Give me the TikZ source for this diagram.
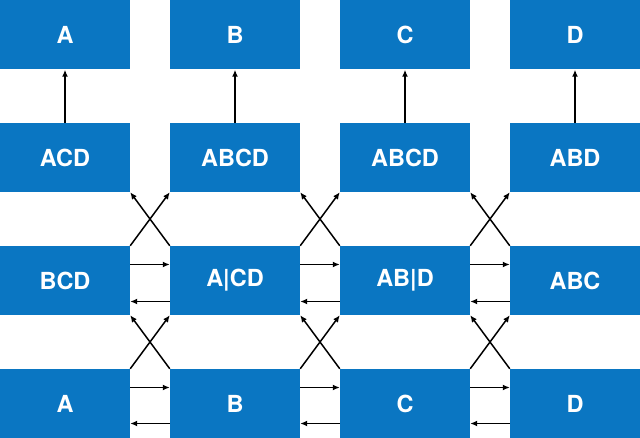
\documentclass[tikz,border=0pt]{standalone}
\usepackage{fontspec}
\setmainfont{TeX Gyre Heros}
\usepackage{tikz}
\usetikzlibrary{shapes,arrows.meta,positioning}

\definecolor{boxblue}{RGB}{10,118,194}

\begin{document}
\begin{tikzpicture}[x=1pt,y=-1pt]
			\tikzstyle{Box}	= [rectangle, fill=boxblue, text=white, minimum width=130pt, minimum height=69pt, inner sep=0pt, font=\fontsize{23.5}{27}\selectfont\bfseries]
			\tikzstyle{Arr}	= [line width=1.5pt, -{Latex[length=7pt,width=6pt]}]

			\useasboundingbox (0,0) rectangle (640,438);

			\node (t1) at (65, 35) [Box] {A};
			\node (t2) at (235, 35) [Box] {B};
			\node (t3) at (405, 35) [Box] {C};
			\node (t4) at (575, 35) [Box] {D};
			\node (s1) at (65, 157.5) [Box] {ACD};
			\node (s2) at (235, 157.5) [Box] {ABCD};
			\node (s3) at (405, 157.5) [Box] {ABCD};
			\node (s4) at (575, 157.5) [Box] {ABD};
			\node (m1) at (65, 280.5) [Box] {BCD};
			\node (m2) at (235, 280.5) [Box] {A|CD};
			\node (m3) at (405, 280.5) [Box] {AB|D};
			\node (m4) at (575, 280.5) [Box] {ABC};
			\node (b1) at (65, 403.5) [Box] {A};
			\node (b2) at (235, 403.5) [Box] {B};
			\node (b3) at (405, 403.5) [Box] {C};
			\node (b4) at (575, 403.5) [Box] {D};

			% up to the single letters
			\draw (s1) to (t1) [Arr];
			\draw (s2) to (t2) [Arr];
			\draw (s3) to (t3) [Arr];
			\draw (s4) to (t4) [Arr];

			% crossings between the rows
			\draw (m1.north east) to (s2.south west) [Arr];
			\draw (m2.north west) to (s1.south east) [Arr];
			\draw (m2.north east) to (s3.south west) [Arr];
			\draw (m3.north west) to (s2.south east) [Arr];
			\draw (m3.north east) to (s4.south west) [Arr];
			\draw (m4.north west) to (s3.south east) [Arr];
			\draw (b1.north east) to (m2.south west) [Arr];
			\draw (b2.north west) to (m1.south east) [Arr];
			\draw (b2.north east) to (m3.south west) [Arr];
			\draw (b3.north west) to (m2.south east) [Arr];
			\draw (b3.north east) to (m4.south west) [Arr];
			\draw (b4.north west) to (m3.south east) [Arr];

			% side by side
			\draw ([yshift=16pt]m1.east) to ([yshift=16pt]m2.west) [Arr];
			\draw ([yshift=-21pt]m2.west) to ([yshift=-21pt]m1.east) [Arr];
			\draw ([yshift=16pt]m2.east) to ([yshift=16pt]m3.west) [Arr];
			\draw ([yshift=-21pt]m3.west) to ([yshift=-21pt]m2.east) [Arr];
			\draw ([yshift=16pt]m3.east) to ([yshift=16pt]m4.west) [Arr];
			\draw ([yshift=-21pt]m4.west) to ([yshift=-21pt]m3.east) [Arr];
			\draw ([yshift=16pt]b1.east) to ([yshift=16pt]b2.west) [Arr];
			\draw ([yshift=-20pt]b2.west) to ([yshift=-20pt]b1.east) [Arr];
			\draw ([yshift=16pt]b2.east) to ([yshift=16pt]b3.west) [Arr];
			\draw ([yshift=-20pt]b3.west) to ([yshift=-20pt]b2.east) [Arr];
			\draw ([yshift=16pt]b3.east) to ([yshift=16pt]b4.west) [Arr];
			\draw ([yshift=-20pt]b4.west) to ([yshift=-20pt]b3.east) [Arr];
		\end{tikzpicture}
\end{document}
